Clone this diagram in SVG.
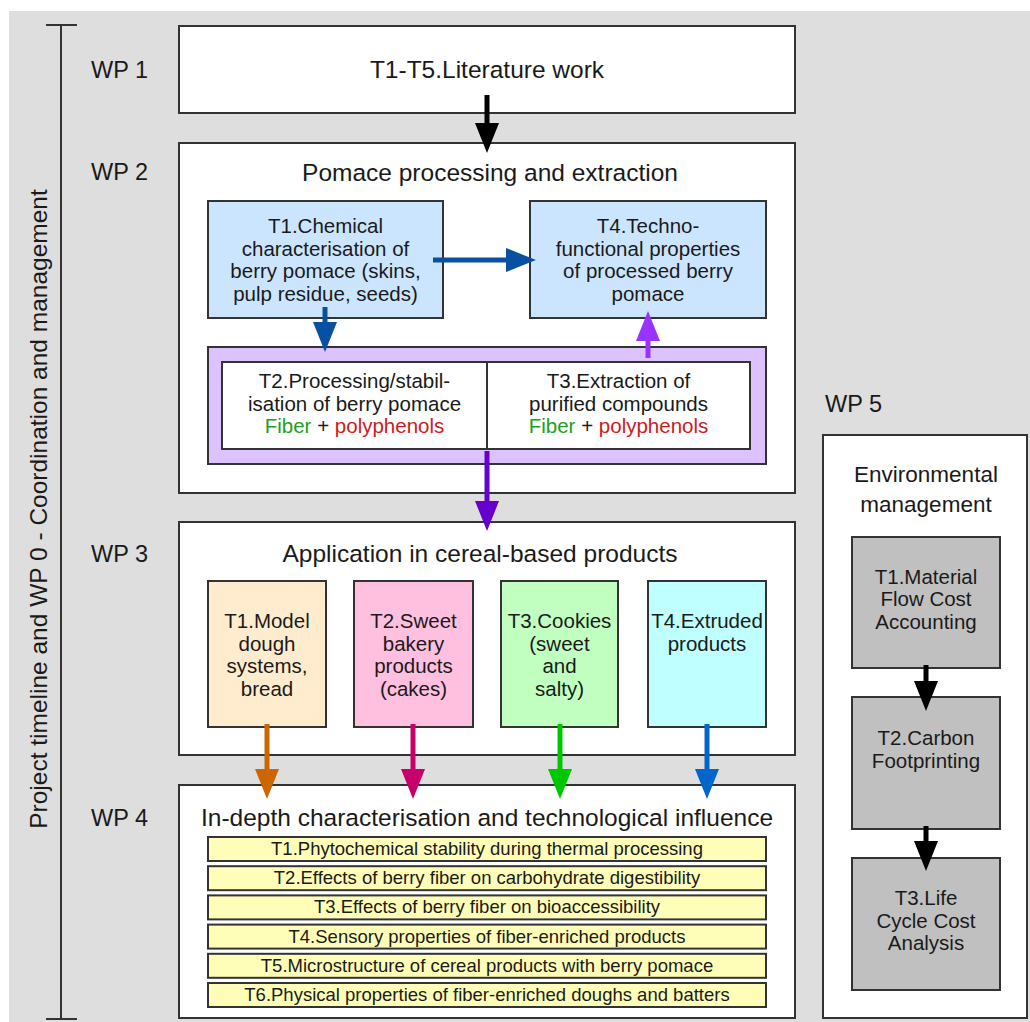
<svg xmlns="http://www.w3.org/2000/svg" width="1030" height="1022" viewBox="0 0 1030 1022">
<style>
.box{stroke:#333;stroke-width:2}
.t{font-family:"Liberation Sans",Arial,sans-serif;fill:#1a1a1a;text-anchor:middle}
.wp{font-size:23.5px;text-anchor:start}
.title{font-size:24.5px}
.bt{font-size:20.5px}
.bar{font-size:18.5px}
.ar{stroke-width:5;fill:none}
</style>
<defs>
<marker id="mk" markerUnits="userSpaceOnUse" markerWidth="30" markerHeight="24" viewBox="0 -12 30 24" refX="1" refY="0" orient="auto"><path d="M0,-12 L30,0 L0,12 z" fill="#000"/></marker>
<marker id="mb" markerUnits="userSpaceOnUse" markerWidth="30" markerHeight="24" viewBox="0 -12 30 24" refX="1" refY="0" orient="auto"><path d="M0,-12 L30,0 L0,12 z" fill="#0a50a0"/></marker>
<marker id="mv" markerUnits="userSpaceOnUse" markerWidth="30" markerHeight="24" viewBox="0 -12 30 24" refX="1" refY="0" orient="auto"><path d="M0,-12 L30,0 L0,12 z" fill="#9933ff"/></marker>
<marker id="mp" markerUnits="userSpaceOnUse" markerWidth="30" markerHeight="24" viewBox="0 -12 30 24" refX="1" refY="0" orient="auto"><path d="M0,-12 L30,0 L0,12 z" fill="#6600cc"/></marker>
<marker id="mo" markerUnits="userSpaceOnUse" markerWidth="30" markerHeight="24" viewBox="0 -12 30 24" refX="1" refY="0" orient="auto"><path d="M0,-12 L30,0 L0,12 z" fill="#cc6600"/></marker>
<marker id="mm" markerUnits="userSpaceOnUse" markerWidth="30" markerHeight="24" viewBox="0 -12 30 24" refX="1" refY="0" orient="auto"><path d="M0,-12 L30,0 L0,12 z" fill="#c8006a"/></marker>
<marker id="mg" markerUnits="userSpaceOnUse" markerWidth="30" markerHeight="24" viewBox="0 -12 30 24" refX="1" refY="0" orient="auto"><path d="M0,-12 L30,0 L0,12 z" fill="#00c800"/></marker>
<marker id="mc" markerUnits="userSpaceOnUse" markerWidth="30" markerHeight="24" viewBox="0 -12 30 24" refX="1" refY="0" orient="auto"><path d="M0,-12 L30,0 L0,12 z" fill="#0066cc"/></marker>
</defs>

<rect x="9" y="11" width="1021" height="1011" fill="#dedede"/>

<g id="timeline">
<path d="M61,25 V1019 M46,25 H77 M46,1019 H77" stroke="#333" stroke-width="2" fill="none"/>
<text class="t title" transform="translate(47,509) rotate(-90)">Project timeline and WP 0 - Coordination and management</text>
</g>

<g id="labels">
<text class="t wp" x="91" y="78">WP 1</text>
<text class="t wp" x="91" y="180">WP 2</text>
<text class="t wp" x="91" y="562">WP 3</text>
<text class="t wp" x="91" y="826">WP 4</text>
<text class="t wp" x="825" y="412">WP 5</text>
</g>

<g id="wp1">
<rect class="box" x="179" y="26" width="616" height="87" fill="#fff"/>
<text class="t title" x="487" y="78">T1-T5.Literature work</text>
</g>

<g id="wp2">
<rect class="box" x="179" y="143" width="616" height="350" fill="#fff"/>
<text class="t title" x="490" y="181">Pomace processing and extraction</text>
</g>
<g id="wp2-t1">
<rect class="box" x="208" y="201" width="235" height="117" fill="#cce5ff"/>
<text class="t bt" x="325.5" y="233">T1.Chemical<tspan x="325.5" dy="22.7">characterisation of</tspan><tspan x="325.5" dy="22.7">berry pomace (skins,</tspan><tspan x="325.5" dy="22.7">pulp residue, seeds)</tspan></text>
</g>
<g id="wp2-t4">
<rect class="box" x="530" y="201" width="236" height="117" fill="#cce5ff"/>
<text class="t bt" x="648" y="233">T4.Techno-<tspan x="648" dy="22.7">functional properties</tspan><tspan x="648" dy="22.7">of processed berry</tspan><tspan x="648" dy="22.7">pomace</tspan></text>
</g>
<g id="wp2-t23">
<rect class="box" x="208" y="347" width="558" height="117" fill="#dcc3ff"/>
<rect class="box" x="222" y="362" width="528" height="87" fill="#fff"/>
<line x1="487" y1="362" x2="487" y2="449" stroke="#333" stroke-width="2"/>
</g>
<g id="wp2-t2">
<text class="t bt" x="354.5" y="388">T2.Processing/stabil-<tspan x="354.5" dy="22.7">isation of berry pomace</tspan><tspan x="354.5" dy="22.7"><tspan fill="#22a022">Fiber</tspan> + <tspan fill="#cc2020">polyphenols</tspan></tspan></text>
</g>
<g id="wp2-t3">
<text class="t bt" x="618.5" y="388">T3.Extraction of<tspan x="618.5" dy="22.7">purified compounds</tspan><tspan x="618.5" dy="22.7"><tspan fill="#22a022">Fiber</tspan> + <tspan fill="#cc2020">polyphenols</tspan></tspan></text>
</g>

<g id="wp3">
<rect class="box" x="179" y="522" width="616" height="233" fill="#fff"/>
<text class="t title" x="480" y="562">Application in cereal-based products</text>
</g>
<g id="wp3-t1">
<rect class="box" x="208" y="581" width="118" height="146" fill="#ffecce"/>
<text class="t bt" x="267" y="628">T1.Model<tspan x="267" dy="22.7">dough</tspan><tspan x="267" dy="22.7">systems,</tspan><tspan x="267" dy="22.7">bread</tspan></text>
</g>
<g id="wp3-t2">
<rect class="box" x="354" y="581" width="119" height="146" fill="#ffc0e0"/>
<text class="t bt" x="413.5" y="628">T2.Sweet<tspan x="413.5" dy="22.7">bakery</tspan><tspan x="413.5" dy="22.7">products</tspan><tspan x="413.5" dy="22.7">(cakes)</tspan></text>
</g>
<g id="wp3-t3">
<rect class="box" x="501" y="581" width="117" height="146" fill="#c0ffc0"/>
<text class="t bt" x="559.5" y="628">T3.Cookies<tspan x="559.5" dy="22.7">(sweet</tspan><tspan x="559.5" dy="22.7">and</tspan><tspan x="559.5" dy="22.7">salty)</tspan></text>
</g>
<g id="wp3-t4">
<rect class="box" x="648" y="581" width="118" height="146" fill="#c0ffff"/>
<text class="t bt" x="707" y="628">T4.Extruded<tspan x="707" dy="22.7">products</tspan></text>
</g>

<g id="wp4">
<rect class="box" x="179" y="785" width="616" height="233" fill="#fff"/>
<text class="t title" x="487" y="826">In-depth characterisation and technological influence</text>
</g>
<g id="wp4-t1"><rect class="box" x="208" y="837" width="558" height="24" fill="#fefeb8"/><text class="t bar" x="487" y="855">T1.Phytochemical stability during thermal processing</text></g>
<g id="wp4-t2"><rect class="box" x="208" y="866.2" width="558" height="24" fill="#fefeb8"/><text class="t bar" x="487" y="884.2">T2.Effects of berry fiber on carbohydrate digestibility</text></g>
<g id="wp4-t3"><rect class="box" x="208" y="895.4" width="558" height="24" fill="#fefeb8"/><text class="t bar" x="487" y="913.4">T3.Effects of berry fiber on bioaccessibility</text></g>
<g id="wp4-t4"><rect class="box" x="208" y="924.6" width="558" height="24" fill="#fefeb8"/><text class="t bar" x="487" y="942.6">T4.Sensory properties of fiber-enriched products</text></g>
<g id="wp4-t5"><rect class="box" x="208" y="953.8" width="558" height="24" fill="#fefeb8"/><text class="t bar" x="487" y="971.8">T5.Microstructure of cereal products with berry pomace</text></g>
<g id="wp4-t6"><rect class="box" x="208" y="983" width="558" height="24" fill="#fefeb8"/><text class="t bar" x="487" y="1001">T6.Physical properties of fiber-enriched doughs and batters</text></g>

<g id="wp5">
<rect class="box" x="823" y="435" width="204" height="583" fill="#fff"/>
<text class="t title" x="926" y="482" style="font-size:22.5px">Environmental<tspan x="926" dy="29.5">management</tspan></text>
</g>
<g id="wp5-t1">
<rect class="box" x="852" y="537" width="148" height="131" fill="#c0c0c0"/>
<text class="t bt" x="926" y="583.5">T1.Material<tspan x="926" dy="22.5">Flow Cost</tspan><tspan x="926" dy="22.5">Accounting</tspan></text>
</g>
<g id="wp5-t2">
<rect class="box" x="852" y="697" width="148" height="132" fill="#c0c0c0"/>
<text class="t bt" x="926" y="745">T2.Carbon<tspan x="926" dy="22.5">Footprinting</tspan></text>
</g>
<g id="wp5-t3">
<rect class="box" x="852" y="858" width="148" height="132" fill="#c0c0c0"/>
<text class="t bt" x="926" y="905">T3.Life<tspan x="926" dy="22.5">Cycle Cost</tspan><tspan x="926" dy="22.5">Analysis</tspan></text>
</g>

<g id="connectors">
<line class="ar" x1="487" y1="95" x2="487" y2="124" stroke="#000" marker-end="url(#mk)"/>
<line class="ar" x1="433" y1="260" x2="507" y2="260" stroke="#0a50a0" marker-end="url(#mb)"/>
<line class="ar" x1="325" y1="307" x2="325" y2="323" stroke="#0a50a0" marker-end="url(#mb)"/>
<line class="ar" x1="648" y1="358" x2="648" y2="340" stroke="#9933ff" marker-end="url(#mv)"/>
<line class="ar" x1="487" y1="451" x2="487" y2="502" stroke="#6600cc" marker-end="url(#mp)"/>
<line class="ar" x1="267" y1="724" x2="267" y2="770" stroke="#cc6600" marker-end="url(#mo)"/>
<line class="ar" x1="413" y1="724" x2="413" y2="770" stroke="#c8006a" marker-end="url(#mm)"/>
<line class="ar" x1="560" y1="724" x2="560" y2="770" stroke="#00c800" marker-end="url(#mg)"/>
<line class="ar" x1="707" y1="724" x2="707" y2="770" stroke="#0066cc" marker-end="url(#mc)"/>
<line class="ar" x1="926" y1="665" x2="926" y2="682" stroke="#000" marker-end="url(#mk)"/>
<line class="ar" x1="926" y1="826" x2="926" y2="842" stroke="#000" marker-end="url(#mk)"/>
</g>
</svg>
